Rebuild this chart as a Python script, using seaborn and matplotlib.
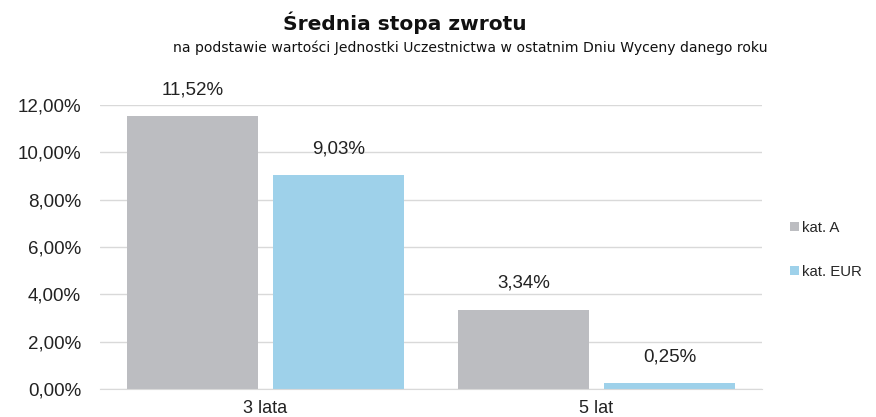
import matplotlib
matplotlib.use("Agg")
import matplotlib.pyplot as plt
import seaborn as sns
import pandas as pd

# data
okresy = ["3 lata", "5 lat"]
kat_a = [11.52, 3.34]
kat_eur = [9.03, 0.25]
serie = ["kat. A", "kat. EUR"]
kolory = ["#BCBDC1", "#9ED1EA"]

df = pd.DataFrame({
    "okres": okresy * 2,
    "seria": [serie[0]] * 2 + [serie[1]] * 2,
    "wartosc": kat_a + kat_eur,
})

sns.set_style("white")
plt.rcParams["font.family"] = ["Liberation Sans", "DejaVu Sans"]

fig = plt.figure(figsize=(8.76, 4.17), dpi=100)
ax = fig.add_axes([0.114, 0.067, 0.756, 0.681])

sns.barplot(data=df, x="okres", y="wartosc", hue="seria", palette=kolory,
            width=0.88, gap=0.1, saturation=1, linewidth=0, ax=ax, legend=True)

ax.set_ylim(0, 12)
ax.set_xlim(-0.5, 1.5)
ax.set_yticks(range(0, 13, 2))
ax.set_yticklabels([f"{v:.2f}%".replace(".", ",") for v in range(0, 13, 2)], fontsize=13.5, color="#222222")
ax.yaxis.grid(True, color="#D9D9D9", linewidth=1)
ax.set_axisbelow(True)
ax.tick_params(axis="y", length=0, pad=13.5)

ax.set_xticks([0, 1])
ax.set_xticklabels(okresy, fontsize=13, color="#222222")
ax.set_xticks([-0.5, 0.5, 1.5], minor=True)
ax.tick_params(axis="x", which="major", length=0, pad=8)
ax.tick_params(axis="x", which="minor", length=5, color="#D9D9D9", width=1, direction="out")
ax.set_xlabel("")
ax.set_ylabel("")

for s in ["left", "right", "top"]:
    ax.spines[s].set_visible(False)
ax.spines["bottom"].set_color("#D9D9D9")

for cont in ax.containers:
    ax.bar_label(cont, labels=[f"{v:.2f}%".replace(".", ",") for v in cont.datavalues],
                 padding=13, fontsize=13.5, color="#222222", clip_on=False)

leg = ax.legend(loc="center left", bbox_to_anchor=(1.021, 0.49), frameon=False,
                fontsize=10.8, handlelength=0.6, handleheight=0.6, handletextpad=0.2,
                labelspacing=2.0)

fig.text(0.462, 0.945, "Średnia stopa zwrotu", ha="center", va="center",
         fontsize=14.5, fontweight="bold", family="DejaVu Sans", color="#111111")
fig.text(0.537, 0.885, "na podstawie wartości Jednostki Uczestnictwa w ostatnim Dniu Wyceny danego roku",
         ha="center", va="center", fontsize=10.1, family="DejaVu Sans", color="#111111")

fig.savefig("out.png", dpi=100)
